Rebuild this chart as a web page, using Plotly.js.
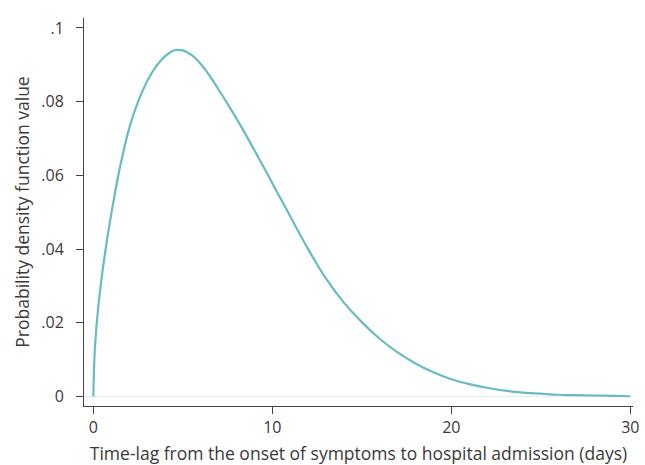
<!DOCTYPE html>
<html>
<head>
<meta charset="utf-8">
<script src="https://cdn.plot.ly/plotly-3.0.1.min.js"></script>
<style>html,body{margin:0;padding:0;background:#fff;}#chart{width:645px;height:465px;}</style>
</head>
<body>
<div id="chart"></div>
<script>
var days = [0, 0.05, 0.1, 0.25, 0.5, 0.75, 1, 1.25, 1.5, 2, 2.5, 3, 3.5, 4, 4.5, 5, 5.5, 6, 6.5, 7, 7.5, 8, 8.5, 9, 9.5, 10, 10.5, 11, 11.5, 12, 13, 14, 15, 16, 17, 18, 19, 20, 21, 22, 23, 24, 25, 26, 27, 28, 29, 30];
var density = [0, 0.009, 0.014, 0.023, 0.0335, 0.0420, 0.0495, 0.0563, 0.0625, 0.0727, 0.0800, 0.0855, 0.0895, 0.0923, 0.0939, 0.0939, 0.0926, 0.0902, 0.0870, 0.0833, 0.0794, 0.0754, 0.0712, 0.0668, 0.0624, 0.0579, 0.0534, 0.0489, 0.0444, 0.0400, 0.0320, 0.0255, 0.0202, 0.0157, 0.0120, 0.0090, 0.0066, 0.0047, 0.0034, 0.0024, 0.0016, 0.0011, 0.0008, 0.0005, 0.0004, 0.0003, 0.0002, 0.0001];
var yTickVals = [0, 0.02, 0.04, 0.06, 0.08, 0.1];
var yTickText = ["0", ".02", ".04", ".06", ".08", ".1"];
var xTickVals = [0, 10, 20, 30];
var xTickText = ["0", "10", "20", "30"];

var trace = {
  x: days, y: density, type: 'scatter', mode: 'lines',
  line: {color: '#68bcc1', width: 2.2, shape: 'spline', smoothing: 1},
  hoverinfo: 'none'
};
var tf = {family: 'Open Sans, sans-serif', size: 16, color: '#3a3a3a'};
var titleFont = {family: 'Open Sans, sans-serif', size: 17.5, color: '#3a3a3a'};
var layout = {
  width: 645, height: 465,
  margin: {l: 84, r: 12, t: 18, b: 59},
  paper_bgcolor: '#fff', plot_bgcolor: '#fff',
  showlegend: false,
  font: tf,
  xaxis: {
    range: [-0.52, 30.15], showgrid: false, zeroline: false,
    showline: true, linecolor: '#444', linewidth: 1,
    ticks: 'outside', ticklen: 7, tickcolor: '#444', tickwidth: 1,
    tickvals: xTickVals, ticktext: xTickText,
    tickfont: tf, ticklabelstandoff: 0,
    title: {text: 'Time-lag from the onset of symptoms to hospital admission (days)', font: titleFont, standoff: 18}
  },
  yaxis: {
    range: [-0.00255, 0.1027], showgrid: false,
    zeroline: true, zerolinecolor: '#e4eef2', zerolinewidth: 1,
    showline: true, linecolor: '#444', linewidth: 1,
    ticks: 'outside', ticklen: 7, tickcolor: '#444', tickwidth: 1,
    tickvals: yTickVals, ticktext: yTickText,
    tickfont: tf, ticklabelstandoff: 9,
    title: {text: 'Probability density function value', font: titleFont, standoff: 7}
  }
};
Plotly.newPlot('chart', [trace], layout, {staticPlot: true, displayModeBar: false});
</script>
</body>
</html>
